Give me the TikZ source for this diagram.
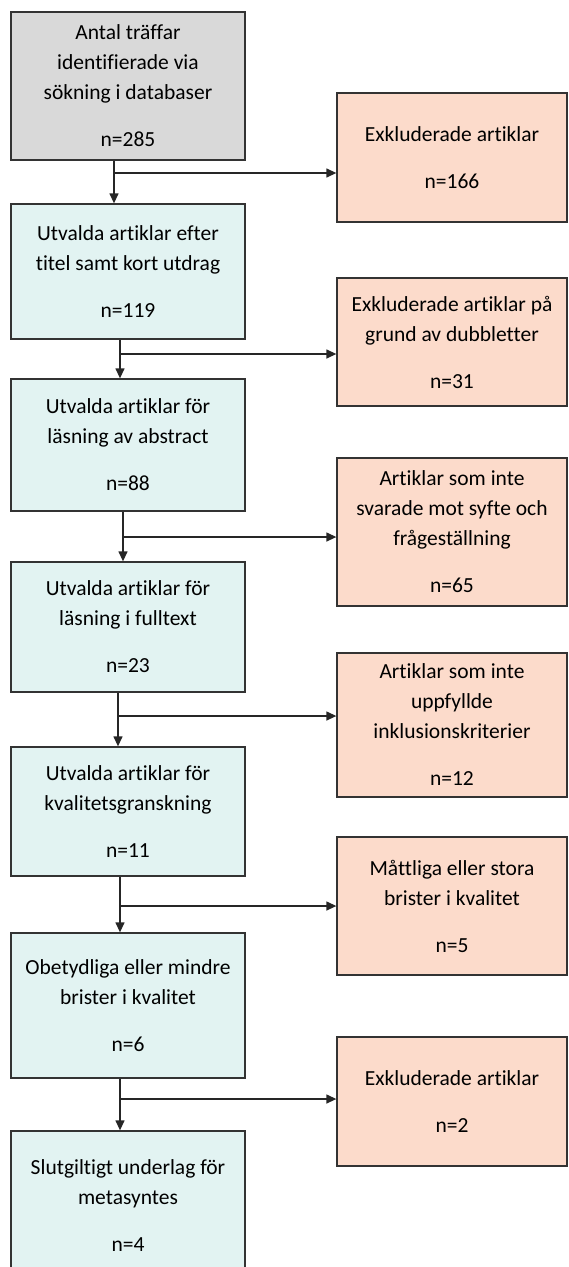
\documentclass[tikz,border=0pt]{standalone}
\usepackage{fontspec}
\setmainfont{Carlito}[Ligatures={NoCommon}]
\usetikzlibrary{arrows.meta}
\definecolor{startgray}{RGB}{217,217,217}
\definecolor{keptcyan}{RGB}{226,243,242}
\definecolor{droppeach}{RGB}{252,219,203}
\tikzset{anybox/.style={draw=black!80,line width=1.3pt,rectangle,align=center,inner sep=0pt,
        font=\fontsize{21.5}{30}\selectfont},
    startbox/.style={anybox,fill=startgray,minimum width=234pt},
    keptbox/.style={anybox,fill=keptcyan,minimum width=234pt},
    droppedbox/.style={anybox,fill=droppeach,minimum width=230pt},
    flowline/.style={line width=1.3pt,draw=black!85,-{Triangle[length=10pt,width=9pt]}}}

\begin{document}
\begin{tikzpicture}[x=1pt,y=-1pt]

\useasboundingbox (0,0) rectangle (569,1267);

% left column
\node (s0) [startbox,minimum height=148pt] at (128,86) {Antal träffar\\identifierade via\\sökning i databaser\\[17pt]n=285};
\node (s1) [keptbox,minimum height=135pt] at (128,271.5) {Utvalda artiklar efter\\titel samt kort utdrag\\[17pt]n=119};
\node (s2) [keptbox,minimum height=132pt] at (128,445) {Utvalda artiklar för\\läsning av abstract\\[17pt]n=88};
\node (s3) [keptbox,minimum height=130pt] at (128,627) {Utvalda artiklar för\\läsning i fulltext\\[17pt]n=23};
\node (s4) [keptbox,minimum height=129pt] at (128,811.5) {Utvalda artiklar för\\kvalitetsgranskning\\[17pt]n=11};
\node (s5) [keptbox,minimum height=145pt] at (128,1005.5) {Obetydliga eller mindre\\brister i kvalitet\\[17pt]n=6};
\node (s6) [keptbox,minimum height=150pt] at (128,1206) {Slutgiltigt underlag för\\metasyntes\\[17pt]n=4};

% right column
\node (e1) [droppedbox,minimum height=129pt] at (452,157.5) {Exkluderade artiklar\\[17pt]n=166};
\node (e2) [droppedbox,minimum height=128pt] at (452,342) {Exkluderade artiklar på\\grund av dubbletter\\[17pt]n=31};
\node (e3) [droppedbox,minimum height=148pt] at (452,532) {Artiklar som inte\\svarade mot syfte och\\frågeställning\\[17pt]n=65};
\node (e4) [droppedbox,minimum height=144pt] at (452,725) {Artiklar som inte\\uppfyllde\\inklusionskriterier\\[17pt]n=12};
\node (e5) [droppedbox,minimum height=138pt] at (452,906) {Måttliga eller stora\\brister i kvalitet\\[17pt]n=5};
\node (e6) [droppedbox,minimum height=129pt] at (452,1101.5) {Exkluderade artiklar\\[17pt]n=2};

% connectors
\foreach \upper/\lower/\jx/\jy in {0/1/114/173,1/2/120/354,2/3/123/537,3/4/118/716,4/5/120/906,5/6/120/1099}
{
    \coordinate (j\lower) at (\jx,\jy);
    \draw [flowline] (s\upper.south -| j\lower) -- (s\lower.north -| j\lower);
    \draw [flowline] (j\lower) -- (j\lower -| e\lower.west);
}

\end{tikzpicture}
\end{document}
